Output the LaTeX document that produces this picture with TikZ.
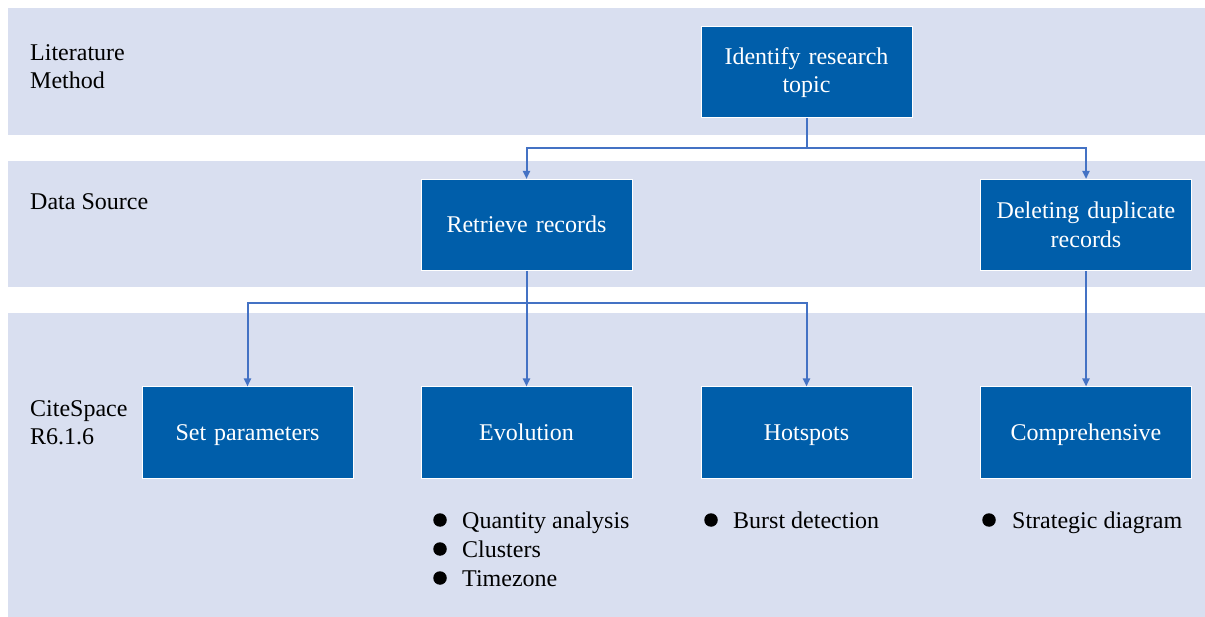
\documentclass[tikz,border=0pt]{standalone}
\usepackage{fontspec}
\setmainfont{LiberationSerif}[Extension=.ttf,UprightFont=*-Regular,BoldFont=*-Bold]
\usetikzlibrary{arrows.meta}
\definecolor{bandfill}{RGB}{217,223,240}
\definecolor{boxblue}{RGB}{0,94,170}
\definecolor{linkblue}{RGB}{68,114,196}
\begin{document}
\begin{tikzpicture}[x=1pt,y=-1pt,
  txt/.style={font=\fontsize{24}{28.5}\selectfont},
  band/.style={fill=bandfill,draw=none},
  stepbox/.style={rectangle,fill=boxblue,draw=white,line width=1pt,
    minimum width=211,minimum height=91,text width=208,align=center,
    text=white,inner sep=0pt,txt},
  oneline/.style={text height=17,text depth=1},
  label/.style={anchor=base west,inner sep=0pt,txt,text=black,align=left},
  conn/.style={draw=linkblue,line width=2pt},
  arr/.style={conn,-{Triangle[length=8pt,width=7pt]}},
  dot/.style={circle,fill=black,minimum size=13.5,inner sep=0pt}]
\useasboundingbox (0,0) rectangle (1205,617);
\fill[white] (0,0) rectangle (1205,617);
% the three horizontal bands
\fill[band] (8,8) rectangle (1205,135);
\fill[band] (8,161) rectangle (1205,287);
\fill[band] (8,313) rectangle (1205,617);
% band titles (base anchor sits on the last line)
\node[label] (lab1) at (30,89) {Literature\\Method};
\node[label] (lab2) at (30,210) {Data Source};
\node[label] (lab3) at (30,445) {CiteSpace\\R6.1.6};
% process boxes
\node[stepbox] (topic) at (806.5,72.5) {Identify research\\topic};
\node[stepbox,oneline] (retr) at (526.5,225) {Retrieve records};
\node[stepbox] (dele) at (1086,225) {Deleting duplicate\\records};
\node[stepbox,oneline] (setp) at (247.5,432.5) {Set parameters};
\node[stepbox,oneline] (evol) at (526.5,432.5) {Evolution};
\node[stepbox,oneline] (hot) at (806.5,432.5) {Hotspots};
\node[stepbox,oneline] (comp) at (1086,432.5) {Comprehensive};
% connectors
\coordinate (j1) at (806.5,148);
\coordinate (j2) at (526.5,303);
\draw[conn] (topic.south) -- (j1);
\draw[arr] (j1) -| (retr.north);
\draw[arr] (j1) -| (dele.north);
\draw[arr] (retr.south) -- (evol.north);
\draw[arr] (j2) -| (setp.north);
\draw[arr] (j2) -| (hot.north);
\draw[arr] (dele.south) -- (comp.north);
% bullet lists
\node[dot] (d1) at (440,520) {};
\node[dot] (d2) at (440,549) {};
\node[dot] (d3) at (440,578) {};
\node[label] (b1) at (462,528) {Quantity analysis};
\node[label] (b2) at (462,557) {Clusters};
\node[label] (b3) at (462,586) {Timezone};
\node[dot] (d4) at (711,520) {};
\node[label] (b4) at (733,528) {Burst detection};
\node[dot] (d5) at (989,520) {};
\node[label] (b5) at (1012,528) {Strategic diagram};
\end{tikzpicture}
\end{document}
